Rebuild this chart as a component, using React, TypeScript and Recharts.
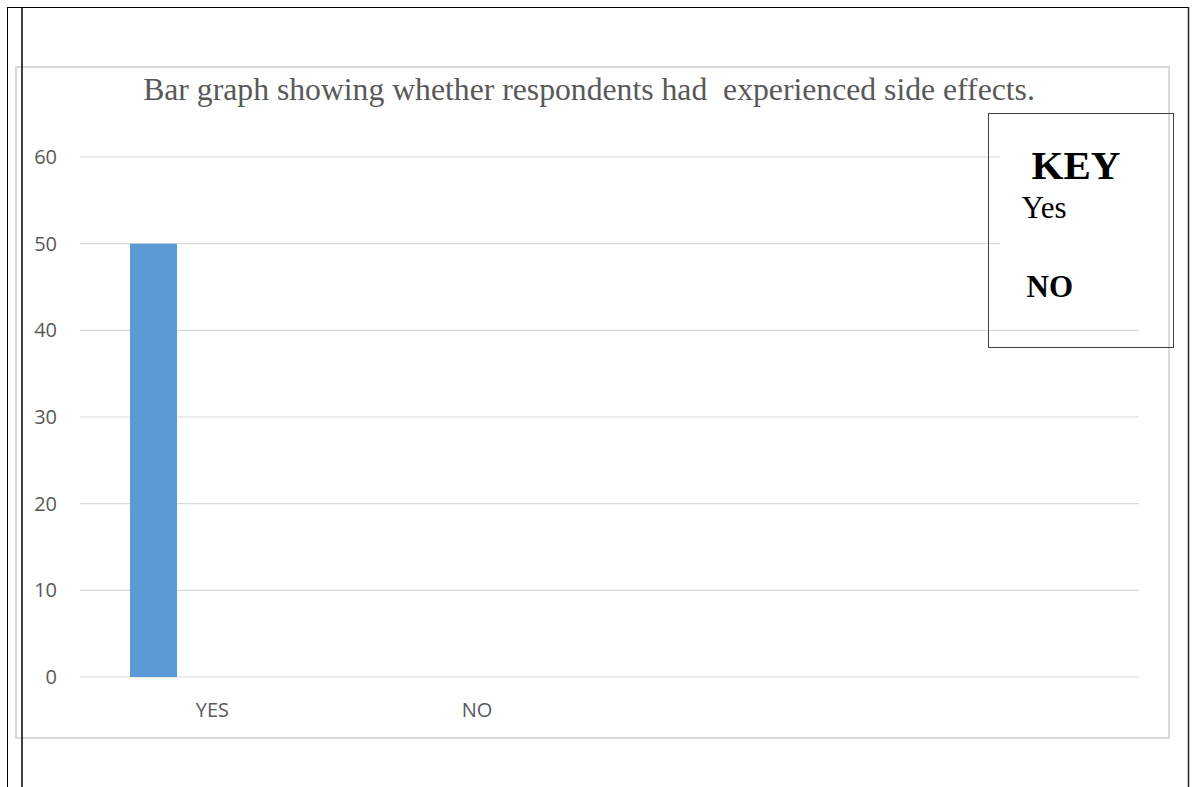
import React from 'react';
import { BarChart, Bar, XAxis, YAxis, CartesianGrid, Legend } from 'recharts';

// Categories along the horizontal axis (the two trailing slots are empty)
const categories: string[] = ['YES', 'NO', '', ''];
// Respondents answering "Yes" / "NO" in each category
const yesValues: (number | null)[] = [50, 0, null, null];
const noValues: (number | null)[] = [0, 0, null, null];
const yTicks: number[] = [0, 10, 20, 30, 40, 50, 60];
const seriesNames = { yes: 'Yes', no: 'NO' };
const titleText = 'Bar graph showing whether respondents had  experienced side effects.';

const data = categories.map((name, i) => ({
  name,
  yes: yesValues[i],
  no: noValues[i],
}));

const W = 1197;
const H = 787;
const GRID = '#d9d9d9';
const TEXT = '#595959';

function KeyBox(props: any) {
  const payload = (props.payload || []) as any[];
  const yesName = payload.find((p) => p.dataKey === 'yes')?.value ?? seriesNames.yes;
  const noName = payload.find((p) => p.dataKey === 'no')?.value ?? seriesNames.no;
  return (
    <svg width={186} height={236} style={{ display: 'block' }}>
      {/* opaque text area inside the key box */}
      <rect x={12} y={1} width={141} height={200} fill="#ffffff" />
      <rect x={0.5} y={0.5} width={185} height={234} fill="none" stroke="#404040" strokeWidth={1} />
      <text x={43.5} y={66} fontFamily="'Liberation Serif', serif" fontWeight="bold" fontSize={41} fill="#000">
        KEY
      </text>
      <text x={33.5} y={104.5} fontFamily="'Liberation Serif', serif" fontSize={31} fill="#000">
        {yesName}
      </text>
      <text x={38.5} y={183.5} fontFamily="'Liberation Serif', serif" fontWeight="bold" fontSize={31} fill="#000">
        {noName}
      </text>
    </svg>
  );
}

export default function App() {
  return (
    <div
      style={{
        position: 'absolute',
        left: 0,
        top: 0,
        width: W,
        height: H,
        background: '#ffffff',
        overflow: 'hidden',
      }}
    >
      {/* chart area frame */}
      <div
        style={{
          position: 'absolute',
          left: 15,
          top: 66,
          width: 1155,
          height: 673,
          boxSizing: 'border-box',
          border: `2px solid ${GRID}`,
        }}
      />
      <div style={{ position: 'absolute', left: 0, top: 0 }}>
        <BarChart
          width={W}
          height={H}
          data={data}
          margin={{ top: 157, right: 58, bottom: 0, left: 0 }}
          barGap={70}
        >
          <CartesianGrid vertical={false} stroke={GRID} strokeWidth={1.2} />
          <XAxis
            dataKey="name"
            axisLine={false}
            tickLine={false}
            tickSize={0}
            tickMargin={26}
            interval={0}
            tick={{ fill: TEXT, fontSize: 20, fontFamily: "'Open Sans', sans-serif" }}
            height={110}
          />
          <YAxis
            domain={[0, 60]}
            ticks={yTicks}
            axisLine={false}
            tickLine={false}
            tickSize={0}
            tickMargin={23}
            width={80}
            tick={{ fill: TEXT, fontSize: 20, fontFamily: "'Open Sans', sans-serif" }}
          />
          <Legend
            layout="horizontal"
            verticalAlign="middle"
            align="center"
            width={186}
            height={236}
            wrapperStyle={{ position: 'absolute', left: 988, top: 113, width: 186, height: 236 }}
            content={KeyBox}
          />
          <Bar dataKey="yes" name={seriesNames.yes} fill="#5b9bd5" barSize={47} isAnimationActive={false} />
          <Bar dataKey="no" name={seriesNames.no} fill="#ed7d31" barSize={47} isAnimationActive={false} />
        </BarChart>
      </div>
      {/* title and page rules */}
      <svg
        width={W}
        height={H}
        style={{ position: 'absolute', left: 0, top: 0, pointerEvents: 'none' }}
      >
        <text
          x={589}
          y={100}
          textAnchor="middle"
          fontFamily="'Liberation Serif', serif"
          fontSize={31.7}
          fill={TEXT}
          xmlSpace="preserve"
          style={{ whiteSpace: 'pre' }}
        >
          {titleText}
        </text>
        <line x1={7.5} y1={7} x2={7.5} y2={H} stroke="#000" strokeWidth={1} />
        <line x1={22} y1={7} x2={22} y2={H} stroke="#000" strokeWidth={1.5} />
        <line x1={7} y1={7.5} x2={1189} y2={7.5} stroke="#000" strokeWidth={1} />
        <line x1={1188.5} y1={7} x2={1188.5} y2={H} stroke="#222" strokeWidth={1.5} />
      </svg>
    </div>
  );
}
